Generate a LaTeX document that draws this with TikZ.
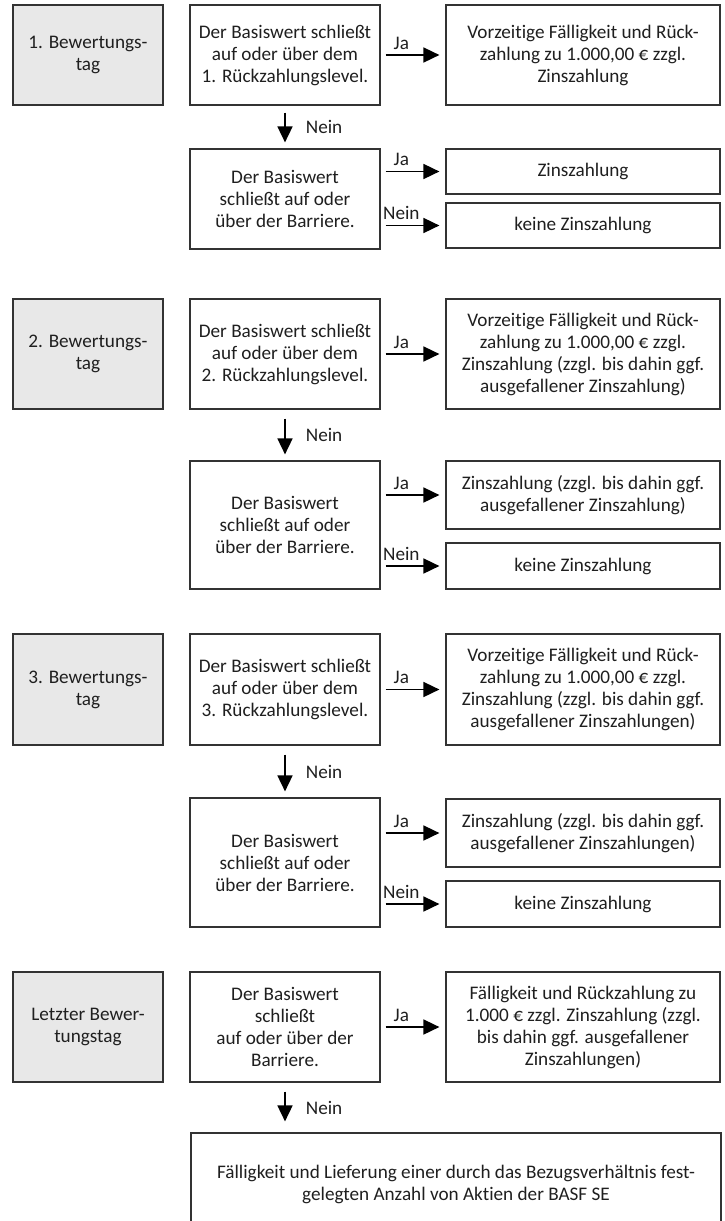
\documentclass[tikz,border=0pt]{standalone}
\usepackage{fontspec}
\setmainfont[Ligatures={NoCommon}]{Carlito}
\usetikzlibrary{arrows.meta}

\begin{document}
\begin{tikzpicture}[x=1pt, y=-1pt, >={Triangle[length=16pt, width=15pt]},
    every node/.style={font=\fontsize{19.2}{22}\selectfont, text=black!88},
    kasten/.style={draw=black!80, line width=1.2pt, align=center, inner sep=0pt},
    tag/.style={kasten, fill=black!9, minimum width=150pt},
    frage/.style={kasten, fill=white, minimum width=190pt},
    folge/.style={kasten, fill=white, minimum width=274pt},
    pfeil/.style={->, black, line width=1.7pt, shorten <=5pt, shorten >=6pt},
    ja/.style={above, pos=0.32, inner sep=5pt},
    nein/.style={right, inner sep=0pt, xshift=20pt}]

    \useasboundingbox (0,0) rectangle (725,1221);

    % 1. Bewertungstag
    \node[tag, minimum height=100pt] (t1) at (88,55) {1. Bewertungs-\\tag};
    \node[frage, minimum height=100pt] (f1) at (285,55) {Der Basiswert schließt\\auf oder über dem\\1. Rückzahlungslevel.};
    \node[folge, minimum height=100pt] (r1) at (583,55) {Vorzeitige Fälligkeit und Rück-\\zahlung zu 1.000,00 € zzgl.\\Zinszahlung};
    \node[frage, minimum height=100pt] (b1) at (285,199) {Der Basiswert\\schließt auf oder\\über der Barriere.};
    \node[folge, minimum height=45pt] (z1) at (583,171.5) {Zinszahlung};
    \node[folge, minimum height=45pt] (k1) at (583,225.5) {keine Zinszahlung};
    \draw[pfeil] (f1.east) -- node[ja] {Ja} (r1.west);
    \draw[pfeil, shorten <=7pt] (f1.south) -- node[nein] {Nein} (b1.north);
    \draw[pfeil] (b1.east |- z1.west) -- node[ja] {Ja} (z1.west);
    \draw[pfeil] (b1.east |- k1.west) -- node[ja] {Nein} (k1.west);

    % 2. Bewertungstag
    \node[tag, minimum height=110pt] (t2) at (88,354) {2. Bewertungs-\\tag};
    \node[frage, minimum height=110pt] (f2) at (285,354) {Der Basiswert schließt\\auf oder über dem\\2. Rückzahlungslevel.};
    \node[folge, minimum height=110pt] (r2) at (583,354) {Vorzeitige Fälligkeit und Rück-\\zahlung zu 1.000,00 € zzgl.\\Zinszahlung (zzgl. bis dahin ggf.\\ausgefallener Zinszahlung)};
    \node[frage, minimum height=128pt] (b2) at (285,525) {Der Basiswert\\schließt auf oder\\über der Barriere.};
    \node[folge, minimum height=68pt] (z2) at (583,495) {Zinszahlung (zzgl. bis dahin ggf.\\ausgefallener Zinszahlung)};
    \node[folge, minimum height=46pt] (k2) at (583,566) {keine Zinszahlung};
    \draw[pfeil] (f2.east) -- node[ja] {Ja} (r2.west);
    \draw[pfeil, shorten <=9pt] (f2.south) -- node[nein] {Nein} (b2.north);
    \draw[pfeil] (b2.east |- z2.west) -- node[ja] {Ja} (z2.west);
    \draw[pfeil] (b2.east |- k2.west) -- node[ja] {Nein} (k2.west);

    % 3. Bewertungstag
    \node[tag, minimum height=111pt] (t3) at (88,689.5) {3. Bewertungs-\\tag};
    \node[frage, minimum height=111pt] (f3) at (285,689.5) {Der Basiswert schließt\\auf oder über dem\\3. Rückzahlungslevel.};
    \node[folge, minimum height=111pt] (r3) at (583,689.5) {Vorzeitige Fälligkeit und Rück-\\zahlung zu 1.000,00 € zzgl.\\Zinszahlung (zzgl. bis dahin ggf.\\ausgefallener Zinszahlungen)};
    \node[frage, minimum height=129pt] (b3) at (285,862.5) {Der Basiswert\\schließt auf oder\\über der Barriere.};
    \node[folge, minimum height=68pt] (z3) at (583,833) {Zinszahlung (zzgl. bis dahin ggf.\\ausgefallener Zinszahlungen)};
    \node[folge, minimum height=46pt] (k3) at (583,904) {keine Zinszahlung};
    \draw[pfeil] (f3.east) -- node[ja] {Ja} (r3.west);
    \draw[pfeil, shorten <=9pt] (f3.south) -- node[nein] {Nein} (b3.north);
    \draw[pfeil] (b3.east |- z3.west) -- node[ja] {Ja} (z3.west);
    \draw[pfeil] (b3.east |- k3.west) -- node[ja] {Nein} (k3.west);

    % 4. Letzter Bewertungstag
    \node[tag, minimum height=110pt] (t4) at (88,1027) {Letzter Bewer-\\tungstag};
    \node[frage, minimum height=110pt] (f4) at (285,1027) {Der Basiswert\\schließt\\auf oder über der\\Barriere.};
    \node[folge, minimum height=110pt] (r4) at (583,1027) {Fälligkeit und Rückzahlung zu\\1.000 € zzgl. Zinszahlung (zzgl.\\bis dahin ggf. ausgefallener\\Zinszahlungen)};
    \node[kasten, minimum width=530pt, minimum height=102pt] (l4) at (456,1184) {Fälligkeit und Lieferung einer durch das Bezugsverhältnis fest-\\gelegten Anzahl von Aktien der BASF SE};
    \draw[pfeil] (f4.east) -- node[ja] {Ja} (r4.west);
    \draw[pfeil, shorten <=9pt, shorten >=11pt] (f4.south) -- node[nein] {Nein} (f4.south |- l4.north);

\end{tikzpicture}
\end{document}
